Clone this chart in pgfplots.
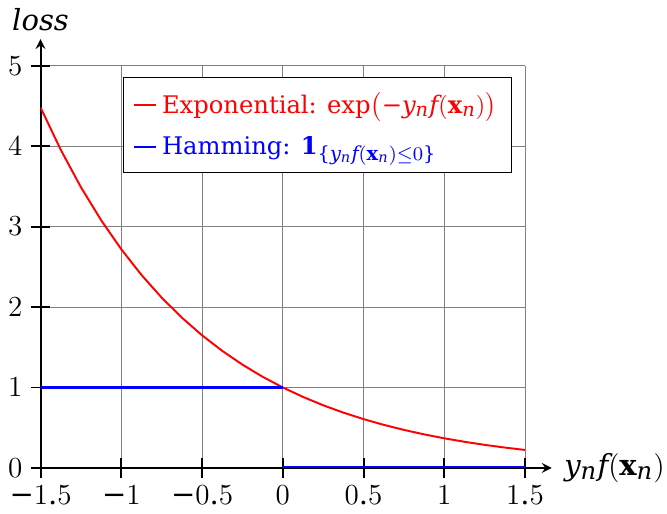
\documentclass[border=0pt]{standalone}
\usepackage{fontspec}
\setmainfont{DejaVu Serif}
\usepackage[italic,unicodeminus]{mathastext}
\usepackage{pgfplots}
\pgfplotsset{compat=1.18}

\begin{document}
\begin{tikzpicture}
\begin{axis}[
    set layers,
    axis on top=false,
    scale only axis,
    width=200pt, height=166pt,
    axis lines=left,
    axis line style={thick, shorten >=-11pt},
    xmin=-1.5, xmax=1.5, ymin=0, ymax=5,
    xtick={-1.5,-1,-0.5,0,0.5,1,1.5},
    ytick={0,1,2,3,4,5},
    tick align=center,
    major tick length=8pt,
    tick style={thick, black},
    grid=major,
    grid style={gray, thin},
    tick label style={font=\large},
    label style={font=\large},
    xlabel={$y_n f(\mathbf{x}_n)$},
    ylabel={$loss$},
    xlabel style={at={(axis description cs:1,0)}, anchor=west, inner sep=1pt, xshift=15pt},
    ylabel style={at={(axis description cs:0,1)}, anchor=south, rotate=-90, yshift=11pt},
    legend style={at={(0.972,0.971)}, anchor=north east, font=\normalsize,
        row sep=4pt, inner sep=4pt},
    legend image code/.code={\draw[#1] (0cm,0cm) -- (0.32cm,0cm);},
    legend cell align=left,
]
\addplot[red, thick] coordinates {
    (-1.5,4.4817) (-1.375,3.9551) (-1.25,3.4903) (-1.125,3.0802)
    (-1,2.7183) (-0.875,2.3989) (-0.75,2.1170) (-0.625,1.8682)
    (-0.5,1.6487) (-0.375,1.4550) (-0.25,1.2840) (-0.125,1.1331)
    (0,1) (0.125,0.8825) (0.25,0.7788) (0.375,0.6873)
    (0.5,0.6065) (0.625,0.5353) (0.75,0.4724) (0.875,0.4169)
    (1,0.3679) (1.125,0.3247) (1.25,0.2865) (1.375,0.2528) (1.5,0.2231)
};
\addlegendentry{\textcolor{red}{Exponential: $\exp\bigl(-y_n f(\mathbf{x}_n)\bigr)$}}
\addplot[blue, line width=1pt] coordinates {(-1.5,1) (-0.75,1) (0,1)};
\addlegendentry{\textcolor{blue}{Hamming: $\mathbf{1}_{\{y_n f(\mathbf{x}_n)\leq 0\}}$}}
\addplot[blue, line width=1.6pt, forget plot] coordinates {(0,0) (1.5,0)};
\end{axis}
\end{tikzpicture}
\end{document}
